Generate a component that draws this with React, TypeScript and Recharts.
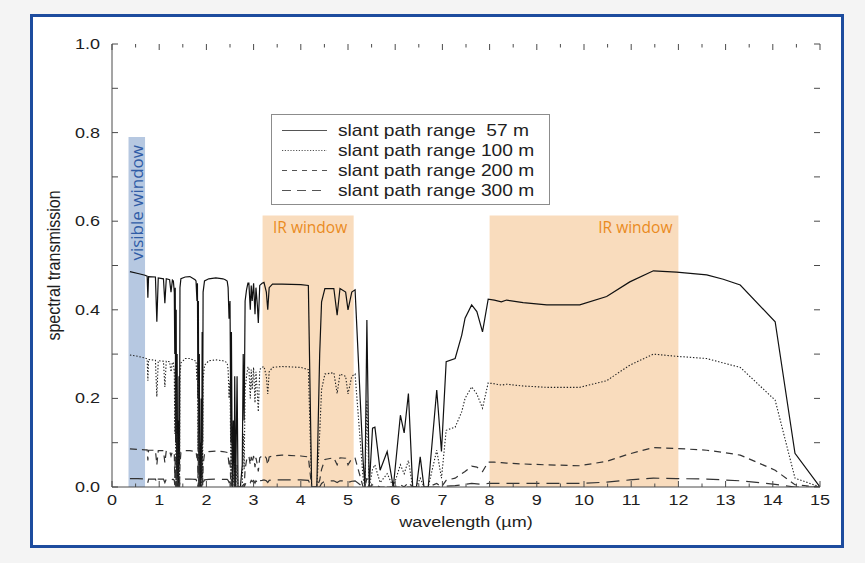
import React from 'react';
import * as Recharts from 'recharts';
import { LineChart, Line, XAxis, YAxis, ReferenceArea, Legend } from 'recharts';

// wavelength in micrometres
const wavelength = [
  0.38, 0.55, 0.70, 0.745, 0.76, 0.775, 0.92, 0.95, 0.98, 1.09, 1.12, 1.15, 1.22, 1.25, 1.28,
  1.30, 1.32, 1.33, 1.34, 1.35, 1.36, 1.37, 1.38, 1.39, 1.40, 1.41, 1.42, 1.43, 1.44, 1.46,
  1.55, 1.65, 1.76,
  1.78, 1.80, 1.81, 1.82, 1.83, 1.84, 1.85, 1.86, 1.87, 1.88, 1.89, 1.90, 1.91, 1.92, 1.93, 1.96,
  2.05, 2.20, 2.35, 2.40,
  2.44, 2.46, 2.48, 2.50, 2.52, 2.53, 2.55, 2.57, 2.59, 2.60, 2.62, 2.65, 2.67, 2.72, 2.76, 2.78, 2.80, 2.82, 2.85, 2.88,
  2.90, 2.93, 2.95, 2.97, 3.00, 3.03, 3.05, 3.08, 3.10, 3.13, 3.18, 3.22, 3.27, 3.30, 3.33, 3.40,
  3.60, 4.00, 4.16, 4.23, 4.34, 4.40, 4.44, 4.51, 4.70, 4.77, 4.83, 4.95, 5.00, 5.08, 5.15,
  5.32, 5.36, 5.40, 5.45, 5.52, 5.57, 5.68, 5.83, 5.96, 6.11, 6.19, 6.28, 6.37, 6.45, 6.53, 6.61, 6.70, 6.88, 6.98, 7.08,
  7.27, 7.41, 7.48, 7.62, 7.73, 7.85, 7.97,
  8.10, 8.25, 8.36, 8.71, 9.21, 9.91, 10.48, 10.97, 11.47, 11.96, 12.60, 12.95, 13.31, 14.05, 14.47, 15.00,
];

const range57 = [
  0.486, 0.482, 0.478, 0.476, 0.427, 0.475, 0.474, 0.373, 0.472, 0.470, 0.415, 0.470, 0.468, 0.440, 0.467,
  0.465, 0.44, 0.30, 0.45, 0.10, 0.40, 0.02, 0.30, 0.0, 0.15, 0.0, 0.25, 0.05, 0.45, 0.47,
  0.474, 0.475, 0.468,
  0.465, 0.42, 0.46, 0.20, 0.42, 0.05, 0.30, 0.0, 0.10, 0.0, 0.20, 0.02, 0.35, 0.10, 0.44, 0.465,
  0.47, 0.472, 0.47, 0.468,
  0.465, 0.45, 0.38, 0.42, 0.10, 0.35, 0.0, 0.15, 0.0, 0.25, 0.0, 0.25, 0.0, 0.0, 0.05, 0.30, 0.15, 0.42, 0.445, 0.46,
  0.46, 0.40, 0.455, 0.42, 0.46, 0.39, 0.45, 0.41, 0.37, 0.455, 0.46, 0.462, 0.44, 0.40, 0.45, 0.458,
  0.458, 0.457, 0.455, 0.0, 0.0, 0.30, 0.418, 0.448, 0.448, 0.388, 0.448, 0.44, 0.40, 0.44, 0.445,
  0.06, 0.0, 0.377, 0.0, 0.133, 0.135, 0.038, 0.08, 0.0, 0.162, 0.122, 0.211, 0.0, 0.0, 0.068, 0.0, 0.0, 0.219, 0.08, 0.283,
  0.29, 0.343, 0.381, 0.411, 0.396, 0.35, 0.424,
  0.422, 0.418, 0.422, 0.416, 0.411, 0.411, 0.43, 0.463, 0.488, 0.485, 0.479, 0.469, 0.456, 0.373, 0.076, 0.0,
];

const range100 = [
  0.298, 0.295, 0.291, 0.289, 0.240, 0.288, 0.286, 0.204, 0.285, 0.284, 0.226, 0.284, 0.283, 0.260, 0.282,
  0.28, 0.26, 0.12, 0.27, 0.02, 0.22, 0.0, 0.12, 0.0, 0.04, 0.0, 0.08, 0.0, 0.25, 0.28,
  0.29, 0.29, 0.285,
  0.285, 0.24, 0.28, 0.08, 0.24, 0.0, 0.12, 0.0, 0.02, 0.0, 0.06, 0.0, 0.15, 0.02, 0.24, 0.275,
  0.285, 0.287, 0.285, 0.283,
  0.28, 0.265, 0.20, 0.24, 0.02, 0.15, 0.0, 0.03, 0.0, 0.06, 0.0, 0.05, 0.0, 0.0, 0.0, 0.12, 0.04, 0.22, 0.25, 0.27,
  0.27, 0.20, 0.265, 0.22, 0.27, 0.19, 0.26, 0.21, 0.17, 0.265, 0.27, 0.272, 0.25, 0.21, 0.26, 0.27,
  0.272, 0.27, 0.265, 0.0, 0.0, 0.12, 0.22, 0.255, 0.258, 0.211, 0.255, 0.25, 0.21, 0.25, 0.255,
  0.02, 0.0, 0.196, 0.0, 0.04, 0.05, 0.01, 0.03, 0.0, 0.05, 0.03, 0.06, 0.0, 0.0, 0.02, 0.0, 0.0, 0.083, 0.02, 0.128,
  0.135, 0.17, 0.20, 0.226, 0.21, 0.178, 0.235,
  0.233, 0.23, 0.232, 0.228, 0.225, 0.225, 0.24, 0.275, 0.30, 0.295, 0.29, 0.28, 0.27, 0.196, 0.02, 0.0,
];

const range200 = [
  0.086, 0.085, 0.084, 0.084, 0.060, 0.083, 0.083, 0.050, 0.082, 0.082, 0.055, 0.082, 0.081, 0.070, 0.080,
  0.08, 0.075, 0.02, 0.07, 0.0, 0.04, 0.0, 0.02, 0.0, 0.0, 0.0, 0.01, 0.0, 0.05, 0.078,
  0.082, 0.082, 0.08,
  0.08, 0.065, 0.078, 0.02, 0.06, 0.0, 0.02, 0.0, 0.0, 0.0, 0.0, 0.0, 0.02, 0.0, 0.05, 0.075,
  0.08, 0.081, 0.08, 0.079,
  0.078, 0.07, 0.05, 0.06, 0.0, 0.02, 0.0, 0.0, 0.0, 0.0, 0.0, 0.0, 0.0, 0.0, 0.0, 0.01, 0.0, 0.04, 0.06, 0.068,
  0.07, 0.05, 0.068, 0.055, 0.07, 0.045, 0.066, 0.05, 0.035, 0.066, 0.07, 0.072, 0.065, 0.05, 0.068, 0.07,
  0.072, 0.07, 0.068, 0.0, 0.0, 0.015, 0.04, 0.062, 0.066, 0.05, 0.066, 0.065, 0.05, 0.064, 0.065,
  0.0, 0.0, 0.02, 0.0, 0.005, 0.005, 0.0, 0.0, 0.0, 0.005, 0.0, 0.01, 0.0, 0.0, 0.0, 0.0, 0.0, 0.008, 0.0, 0.015,
  0.02, 0.03, 0.035, 0.047, 0.045, 0.035, 0.056,
  0.056, 0.055, 0.054, 0.052, 0.05, 0.048, 0.058, 0.075, 0.089, 0.087, 0.083, 0.078, 0.072, 0.038, 0.005, 0.0,
];

const range300 = [
  0.019, 0.019, 0.018, 0.018, 0.010, 0.018, 0.018, 0.008, 0.018, 0.018, 0.010, 0.018, 0.017, 0.014, 0.017,
  0.017, 0.015, 0.004, 0.014, 0.0, 0.006, 0.0, 0.003, 0.0, 0.0, 0.0, 0.0, 0.0, 0.01, 0.016,
  0.018, 0.018, 0.017,
  0.017, 0.012, 0.016, 0.0, 0.01, 0.0, 0.0, 0.0, 0.0, 0.0, 0.0, 0.0, 0.0, 0.0, 0.01, 0.016,
  0.017, 0.018, 0.017, 0.017,
  0.017, 0.015, 0.01, 0.012, 0.0, 0.0, 0.0, 0.0, 0.0, 0.0, 0.0, 0.0, 0.0, 0.0, 0.0, 0.0, 0.0, 0.005, 0.012, 0.015,
  0.015, 0.01, 0.015, 0.012, 0.015, 0.009, 0.014, 0.01, 0.006, 0.014, 0.015, 0.016, 0.014, 0.01, 0.015, 0.016,
  0.016, 0.016, 0.015, 0.0, 0.0, 0.0, 0.008, 0.013, 0.014, 0.01, 0.014, 0.014, 0.01, 0.013, 0.014,
  0.0, 0.0, 0.0, 0.0, 0.0, 0.0, 0.0, 0.0, 0.0, 0.0, 0.0, 0.0, 0.0, 0.0, 0.0, 0.0, 0.0, 0.0, 0.0, 0.002,
  0.003, 0.005, 0.006, 0.008, 0.007, 0.006, 0.008,
  0.008, 0.008, 0.008, 0.008, 0.008, 0.008, 0.011, 0.016, 0.02, 0.019, 0.018, 0.016, 0.014, 0.006, 0.0, 0.0,
];

const seriesKeys = ['r57', 'r100', 'r200', 'r300'];
const seriesNames = [
  'slant path range  57 m',
  'slant path range 100 m',
  'slant path range 200 m',
  'slant path range 300 m',
];

const xTicks = [0, 0.5, 1, 1.5, 2, 2.5, 3, 3.5, 4, 4.5, 5, 5.5, 6, 6.5, 7, 7.5, 8, 8.5, 9, 9.5, 10, 10.5, 11, 11.5, 12, 12.5, 13, 13.5, 14, 14.5, 15];
const yTicks = [0, 0.1, 0.2, 0.3, 0.4, 0.5, 0.6, 0.7, 0.8, 0.9, 1.0];

const xTitle = 'wavelength (\u00b5m)';
const yTitle = 'spectral transmission';

// [x1, x2, top]
const visibleWindow = [0.35, 0.70, 0.79];
const irWindows = [
  [3.19, 5.12, 0.613],
  [8.0, 12.0, 0.613],
];
const visibleLabel = 'visible window';
const irLabel = 'IR window';

const data = wavelength.map((w, i) => ({
  w,
  r57: range57[i],
  r100: range100[i],
  r200: range200[i],
  r300: range300[i],
}));

const FONT = '"Liberation Sans", Arial, Helvetica, sans-serif';
const LABEL_FONT = '"Open Sans", "Noto Sans", sans-serif';
const AXIS = '#4a4a4a';
const INK = '#1e1e1e';
const SX = 1.2;

const usePlotAreaSafe: () => any = (Recharts as any).usePlotArea || (() => null);

const lineStyles = [
  { dash: undefined, width: 1.2, color: '#111' },
  { dash: '1.4 1.8', width: 1.1, color: '#222' },
  { dash: '7 5', width: 1.2, color: '#333' },
  { dash: '13 7', width: 1.2, color: '#333' },
];
const legendDash = [undefined, '1.2 1.6', '5 5', '9 6'];

function SText({ x, y, size, anchor = 'start', fill = INK, rotate = false, children }: any) {
  return (
    <text
      transform={`translate(${x} ${y}) scale(${SX} 1)${rotate ? ' rotate(-90)' : ''}`}
      fontSize={size}
      fontFamily={FONT}
      textAnchor={anchor}
      fill={fill}
      style={{ whiteSpace: 'pre' }}
    >
      {children}
    </text>
  );
}

const isMajorX = (v: number) => Math.abs(v - Math.round(v)) < 1e-6;
const isLabelY = (v: number) => Math.round(v * 10) % 2 === 0;

// bottom axis tick: draws bottom and top inward tick marks plus the label
function BottomTick({ x, y, payload }: any) {
  const pa = usePlotAreaSafe();
  const v = payload.value;
  const major = isMajorX(v);
  const len = major ? 6 : 3.5;
  const bottom = pa ? pa.y + pa.height : y;
  const top = pa ? pa.y : null;
  return (
    <g>
      <line x1={x} x2={x} y1={bottom} y2={bottom - len} stroke={AXIS} strokeWidth={1} />
      {top !== null && <line x1={x} x2={x} y1={top} y2={top + len} stroke={AXIS} strokeWidth={1} />}
      {major && (
        <SText x={x} y={bottom + 18} size={15} anchor="middle">
          {String(v)}
        </SText>
      )}
    </g>
  );
}

// left axis tick: draws left and right inward tick marks plus the label
function LeftTick({ x, y, payload }: any) {
  const pa = usePlotAreaSafe();
  const v = payload.value;
  const left = pa ? pa.x : x;
  const right = pa ? pa.x + pa.width : null;
  return (
    <g>
      <line x1={left} x2={left + 6} y1={y} y2={y} stroke={AXIS} strokeWidth={1} />
      {right !== null && <line x1={right} x2={right - 6} y1={y} y2={y} stroke={AXIS} strokeWidth={1} />}
      {isLabelY(v) && (
        <SText x={left - 12} y={y + 5} size={15} anchor="end">
          {v.toFixed(1)}
        </SText>
      )}
    </g>
  );
}

function XTitle({ viewBox }: any) {
  const { x, y, width } = viewBox;
  return (
    <SText x={x + width / 2} y={y + 40} size={15} anchor="middle">
      {xTitle}
    </SText>
  );
}

function YTitle({ viewBox }: any) {
  const { y, height } = viewBox;
  return (
    <SText x={60} y={y + height / 2} size={16} anchor="middle" rotate>
      {yTitle}
    </SText>
  );
}

function VisibleLabel({ viewBox }: any) {
  const { x, y, width } = viewBox;
  return (
    <text
      transform={`translate(${x + width / 2 + 6} ${y + 8}) rotate(-90)`}
      fontSize={17}
      fontFamily={LABEL_FONT}
      textAnchor="end"
      fill="#2f5ca6"
    >
      {visibleLabel}
    </text>
  );
}

function IrLabel({ viewBox, align }: any) {
  const { x, y, width } = viewBox;
  const tx = align === 'end' ? x + width - 6 : x + width / 2 + 2;
  return (
    <text x={tx} y={y + 18} fontSize={15.5} fontFamily={LABEL_FONT} textAnchor={align === 'end' ? 'end' : 'middle'} fill="#ea8b1f">
      {irLabel}
    </text>
  );
}

function LegendBox() {
  return (
    <svg width={280} height={92} style={{ display: 'block', overflow: 'visible' }}>
      <rect x={0.5} y={0.5} width={278} height={90} fill="#fff" stroke="#8c8c8c" strokeWidth={1} />
      {seriesNames.map((name, i) => (
        <g key={name}>
          <line x1={11} x2={56} y1={16.5 + i * 20} y2={16.5 + i * 20} stroke="#555" strokeWidth={1.1} strokeDasharray={legendDash[i]} />
          <SText x={67} y={22 + i * 20} size={16}>
            {name}
          </SText>
        </g>
      ))}
    </svg>
  );
}

export default function App() {
  return (
    <div style={{ position: 'absolute', left: 0, top: 0, width: 865, height: 563, background: '#f4f4f4', overflow: 'hidden' }}>
      <div
        style={{
          position: 'absolute',
          left: 30,
          top: 14,
          width: 814,
          height: 534,
          boxSizing: 'border-box',
          border: '3px solid #1d4c9e',
          background: '#ffffff',
        }}
      />
      <div style={{ position: 'absolute', left: 0, top: 0 }}>
        <LineChart width={865} height={563} data={data} margin={{ top: 44, right: 45, bottom: 0, left: 0 }}>
          <ReferenceArea
            x1={visibleWindow[0]}
            x2={visibleWindow[1]}
            y1={0}
            y2={visibleWindow[2]}
            fill="#b6c8e1"
            fillOpacity={1}
            stroke="none"
            label={<VisibleLabel />}
          />
          {irWindows.map((win, i) => (
            <ReferenceArea
              key={`ir${i}`}
              x1={win[0]}
              x2={win[1]}
              y1={0}
              y2={win[2]}
              fill="#f9dcbd"
              fillOpacity={1}
              stroke="none"
              label={<IrLabel align={i === 0 ? 'middle' : 'end'} />}
            />
          ))}
          <XAxis
            dataKey="w"
            type="number"
            domain={[0, 15]}
            ticks={xTicks}
            interval={0}
            height={76}
            tickLine={false}
            axisLine={{ stroke: AXIS, strokeWidth: 1 }}
            tick={<BottomTick />}
            label={<XTitle />}
            allowDataOverflow
          />
          <XAxis
            xAxisId="top"
            orientation="top"
            dataKey="w"
            type="number"
            domain={[0, 15]}
            ticks={xTicks}
            height={0}
            tickLine={false}
            tick={false}
            axisLine={{ stroke: AXIS, strokeWidth: 1 }}
            allowDataOverflow
          />
          <YAxis
            type="number"
            domain={[0, 1]}
            ticks={yTicks}
            interval={0}
            width={112}
            tickLine={false}
            axisLine={{ stroke: AXIS, strokeWidth: 1 }}
            tick={<LeftTick />}
            label={<YTitle />}
            allowDataOverflow
          />
          <YAxis
            yAxisId="right"
            orientation="right"
            type="number"
            domain={[0, 1]}
            ticks={yTicks}
            width={0}
            tickLine={false}
            tick={false}
            axisLine={{ stroke: AXIS, strokeWidth: 1 }}
            allowDataOverflow
          />
          {seriesKeys.map((k, i) => (
            <Line
              key={k}
              dataKey={k}
              name={seriesNames[i]}
              type="linear"
              stroke={lineStyles[i].color}
              strokeWidth={lineStyles[i].width}
              strokeDasharray={lineStyles[i].dash}
              dot={false}
              activeDot={false}
              isAnimationActive={false}
            />
          ))}
          <Legend
            layout="vertical"
            align="center"
            verticalAlign="middle"
            content={<LegendBox />}
            wrapperStyle={{ left: 271, top: 114, width: 280, height: 92 }}
          />
        </LineChart>
      </div>
    </div>
  );
}
